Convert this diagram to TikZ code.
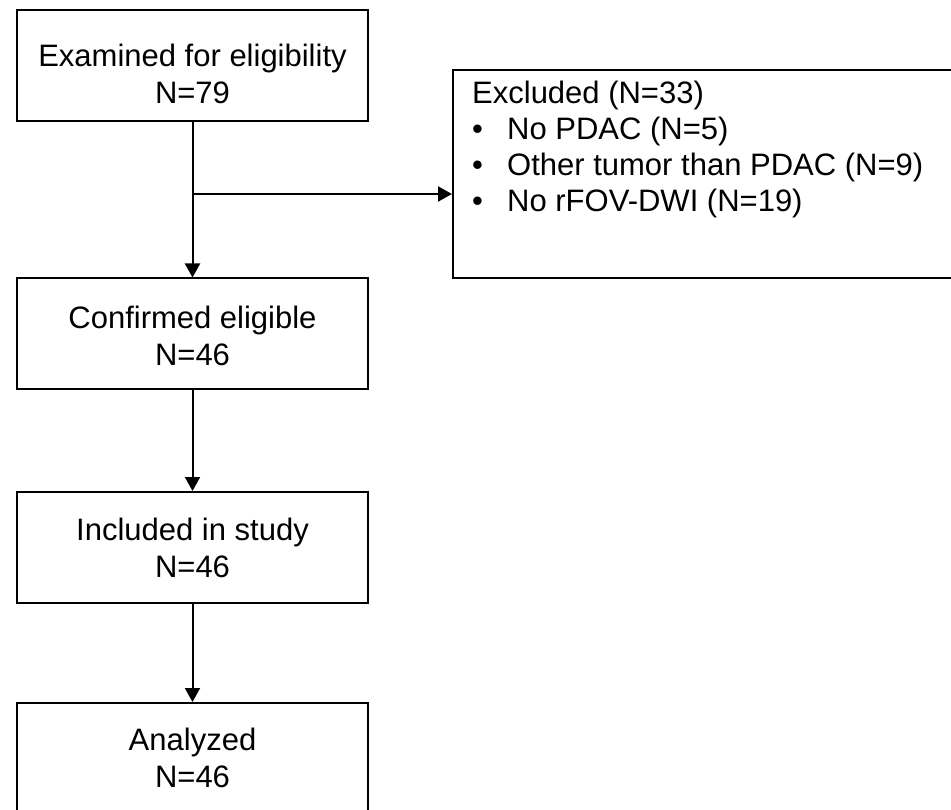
\documentclass[tikz,border=0pt]{standalone}
\usepackage{fontspec}
\setmainfont{Liberation Sans}
\usetikzlibrary{arrows.meta}
\tikzset{
  box/.style={draw=black, line width=2pt, rectangle, minimum width=351pt, minimum height=111pt, inner sep=0pt, fill=white},
  txt/.style={align=center, inner sep=0pt, font=\fontsize{31}{37}\selectfont},
  ltxt/.style={align=left, inner sep=0pt, font=\fontsize{31}{36}\selectfont},
  arr/.style={line width=2pt, -{Triangle[width=15pt,length=14pt]}},
  ln/.style={line width=2pt}
}
\begin{document}
\begin{tikzpicture}[x=1pt,y=-1pt]
\useasboundingbox (0,0) rectangle (951,810);
\clip (0,0) rectangle (951,810);
\node[box] (b1) at (192.5,65.5) {};
\node[txt] (t1) at (192.5,74) {Examined for eligibility\\N=79};
\node[box] (b2) at (192.5,334) {};
\node[txt] (t2) at (192.5,336) {Confirmed eligible\\N=46};
\node[box] (b3) at (192.5,547.5) {};
\node[txt] (t3) at (192.5,547.5) {Included in study\\N=46};
\node[box] (b4) at (192.5,758.5) {};
\node[txt] (t4) at (192.5,758) {Analyzed\\N=46};
\node[box, minimum width=520pt, minimum height=208pt] (ex) at (713,174) {};
\node[ltxt, anchor=north west] (tex) at (472,81) {Excluded (N=33)\\
\makebox[35pt][l]{•}No PDAC (N=5)\\
\makebox[35pt][l]{•}Other tumor than PDAC (N=9)\\
\makebox[35pt][l]{•}No rFOV-DWI (N=19)};
\coordinate (br) at (192.5,194);
\draw[arr] (b1.south) -- (b2.north);
\draw[arr] (br) -- (br -| ex.west);
\draw[arr] (b2.south) -- (b3.north);
\draw[arr] (b3.south) -- (b4.north);
\end{tikzpicture}
\end{document}
